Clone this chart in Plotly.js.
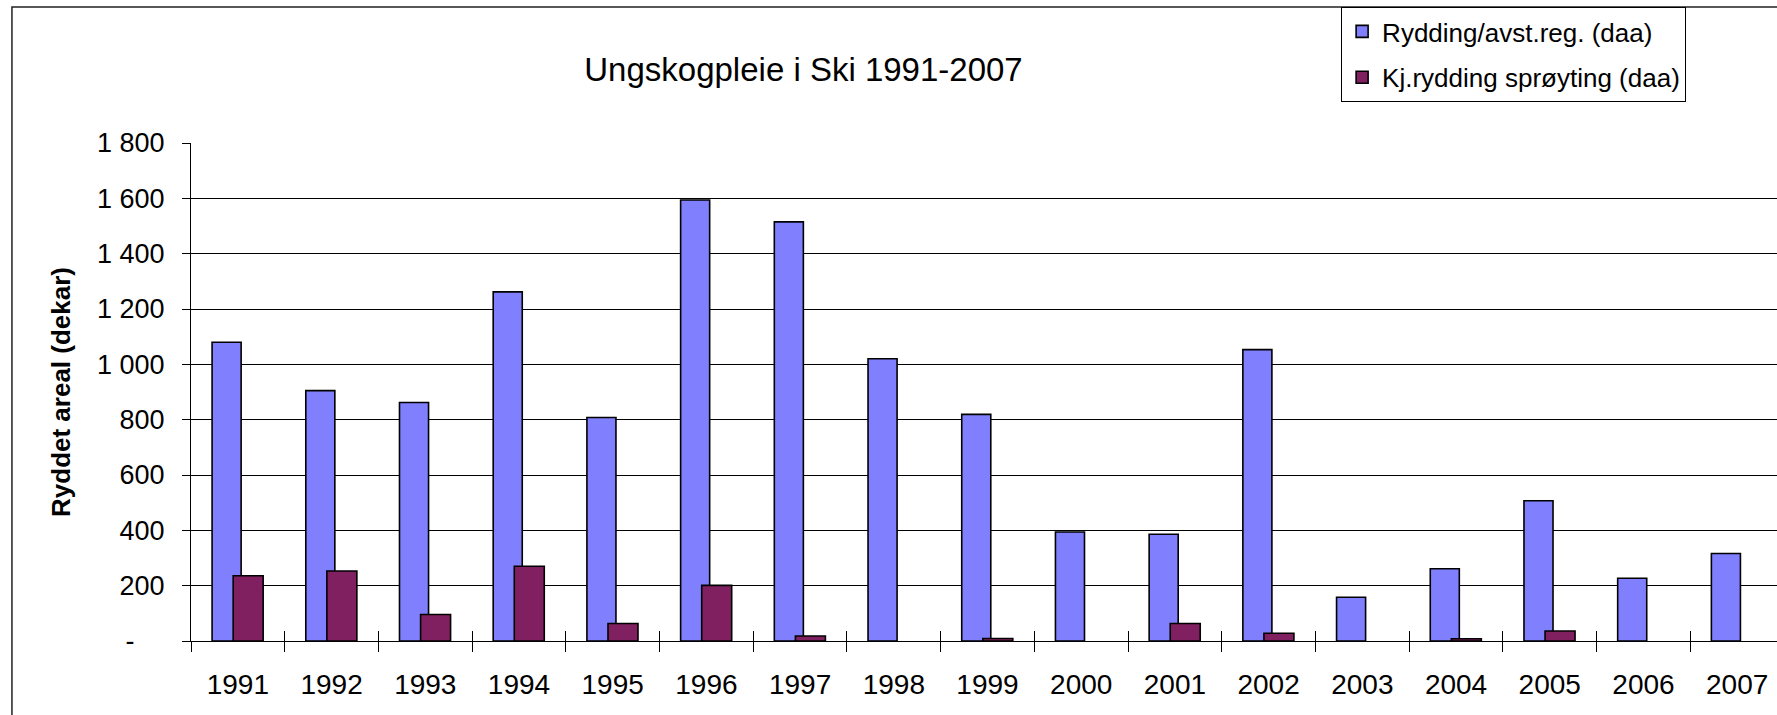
<!DOCTYPE html>
<html>
<head>
<meta charset="utf-8">
<script src="https://cdn.plot.ly/plotly-3.0.1.min.js"></script>
<style>
html,body{margin:0;padding:0;background:#fff;overflow:hidden}
#chart{width:1777px;height:715px}
</style>
</head>
<body>
<div id="chart"></div>
<script>
// ---- data ----
const years = ['1991','1992','1993','1994','1995','1996','1997','1998','1999','2000','2001','2002','2003','2004','2005','2006','2007'];
const rydding = [1080, 905, 862, 1262, 808, 1594, 1515, 1020, 819, 394, 386, 1053, 158, 261, 507, 227, 316];
const kjemisk = [236, 253, 96, 270, 63, 201, 18, null, 9, null, 63, 28, null, 8, 36, null, null];
const seriesNames = ['Rydding/avst.reg. (daa)', 'Kj.rydding sprøyting (daa)'];
const yTickVals = [0, 200, 400, 600, 800, 1000, 1200, 1400, 1600, 1800];
const yTickText = ['-\u00a0\u00a0\u00a0\u00a0', '200', '400', '600', '800', '1 000', '1 200', '1 400', '1 600', '1 800'];
const chartTitle = 'Ungskogpleie i Ski 1991-2007';
const yTitle = 'Ryddet areal (dekar)';

// ---- geometry (pixels) ----
const W = 1777, H = 715;
const L = 190.6, R = 0, T = 143.3, B = 73.7;
const pw = W - L - R, ph = H - T - B;
const catPx = 93.73;
const xRange = [-0.5, -0.5 + pw / catPx];
const yRange = [0, 1800];
const px2x = p => (p - L) / pw;
const py2y = p => (H - B - p) / ph;

const FONT = 'Liberation Sans, Arial, sans-serif';

const traces = [
  {
    type: 'bar', x: years, y: rydding, name: seriesNames[0],
    marker: {color: '#8080FF', line: {color: '#000000', width: 1.6}},
    width: 0.31, offset: -0.275,
    xaxis: 'x', yaxis: 'y', legendgroup: 'a', hoverinfo: 'x+y'
  },
  {
    type: 'bar', x: years, y: kjemisk, name: seriesNames[1],
    marker: {color: '#802060', line: {color: '#000000', width: 1.6}},
    width: 0.32, offset: -0.05,
    xaxis: 'x2', yaxis: 'y2', legendgroup: 'b', hoverinfo: 'x+y'
  }
];

const layout = {
  width: W, height: H,
  paper_bgcolor: '#ffffff', plot_bgcolor: '#ffffff',
  margin: {l: L, r: R, t: T, b: B, autoexpand: false},
  font: {family: FONT, color: '#000000'},
  barmode: 'overlay',
  showlegend: true,
  title: {
    text: chartTitle,
    font: {family: FONT, size: 33, color: '#000000'},
    xref: 'container', x: 803.5 / W, xanchor: 'center',
    yref: 'container', y: 1 - 69 / H, yanchor: 'middle'
  },
  xaxis: {
    type: 'category', range: xRange, autorange: false,
    tickson: 'boundaries', ticks: 'outside', ticklen: 10, tickwidth: 1, tickcolor: '#000000',
    showline: true, linecolor: '#000000', linewidth: 1.3,
    showgrid: false, zeroline: false,
    tickfont: {family: FONT, size: 28, color: '#000000'},
    ticklabelstandoff: 18,
    fixedrange: true
  },
  xaxis2: {
    type: 'category', overlaying: 'x', anchor: 'y2', side: 'bottom',
    range: xRange, autorange: false,
    tickson: 'boundaries', ticks: 'inside', ticklen: 10, tickwidth: 1, tickcolor: '#000000',
    showticklabels: false, showgrid: false, showline: false, zeroline: false,
    fixedrange: true
  },
  yaxis: {
    range: yRange, autorange: false,
    tickmode: 'array', tickvals: yTickVals, ticktext: yTickText,
    ticks: 'outside', ticklen: 8, tickwidth: 1, tickcolor: '#000000',
    showline: true, linecolor: '#000000', linewidth: 1,
    showgrid: true, gridcolor: '#000000', gridwidth: 1,
    zeroline: false,
    tickfont: {family: FONT, size: 27, color: '#000000'},
    ticklabelstandoff: 12,
    automargin: false,
    title: {text: yTitle, font: {family: FONT, size: 26, weight: 700, color: '#000000'}, standoff: 18},
    fixedrange: true
  },
  yaxis2: {
    overlaying: 'y', anchor: 'x2', side: 'left',
    range: yRange, autorange: false,
    tickmode: 'array', tickvals: yTickVals,
    ticks: 'inside', ticklen: 7, tickwidth: 1, tickcolor: '#000000',
    showticklabels: false, showgrid: false, showline: false, zeroline: false,
    fixedrange: true
  },
  legend: {
    x: px2x(1341), xref: 'paper', xanchor: 'left',
    y: py2y(7.3), yref: 'paper', yanchor: 'top',
    bgcolor: '#ffffff', bordercolor: '#000000', borderwidth: 1,
    font: {family: FONT, size: 26, color: '#000000'},
    traceorder: 'grouped', tracegroupgap: 9
  },
  shapes: [
    {
      type: 'rect', xref: 'paper', yref: 'paper',
      x0: px2x(11.5), x1: px2x(1800), y0: py2y(740), y1: py2y(7.3),
      line: {color: '#222222', width: 1.5}, fillcolor: 'rgba(0,0,0,0)', layer: 'above'
    }
  ]
};

Plotly.newPlot('chart', traces, layout, {displayModeBar: false, responsive: false});
</script>
</body>
</html>
